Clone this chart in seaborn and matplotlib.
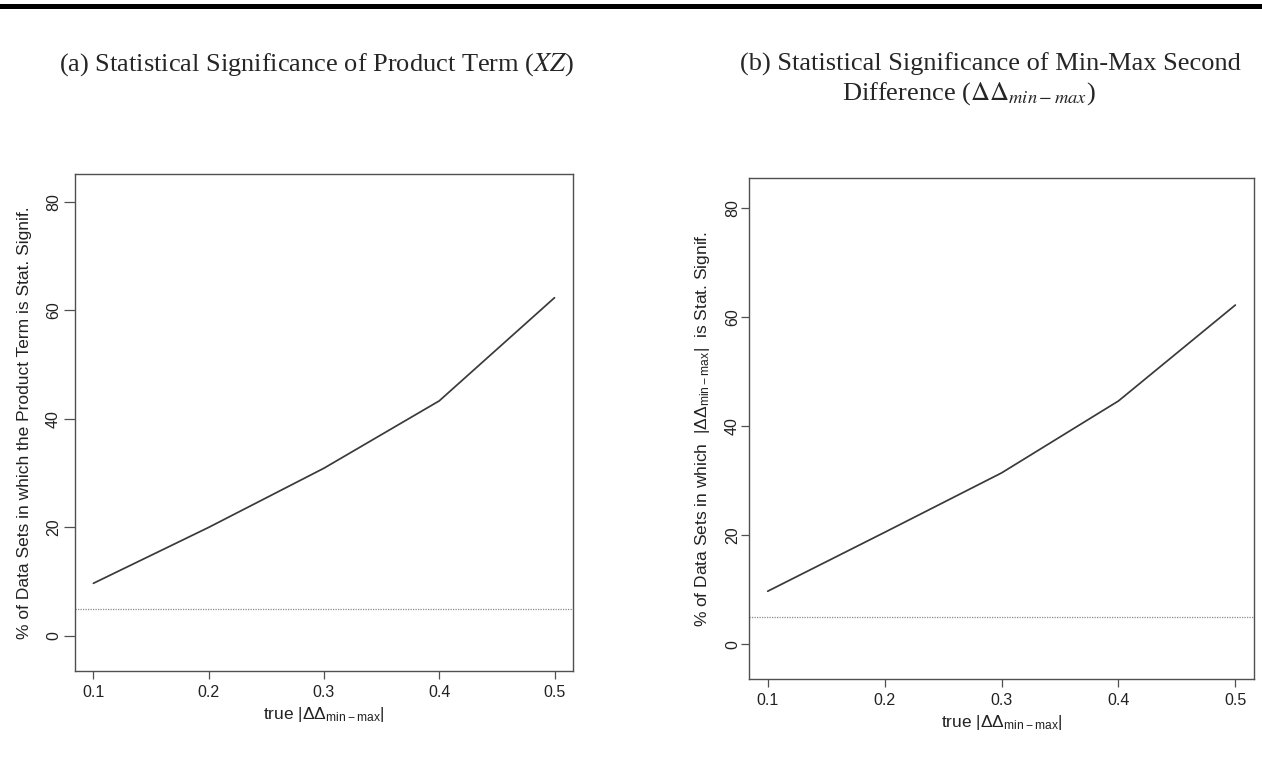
import matplotlib
matplotlib.use('Agg')
import matplotlib.pyplot as plt
from matplotlib.lines import Line2D
import numpy as np
import pandas as pd
import seaborn as sns

# --- data ---
true_dd = [0.1, 0.2, 0.3, 0.4, 0.5]
pct_product_term = [9.7, 20.0, 30.9, 43.3, 62.3]
pct_second_diff = [9.7, 20.5, 31.4, 44.6, 62.2]
alpha_level = 5
x_ticks = [0.1, 0.2, 0.3, 0.4, 0.5]
y_ticks = [0, 20, 40, 60, 80]

title_a = r'(a) Statistical Significance of Product Term ($XZ$)'
title_b1 = '(b) Statistical Significance of Min-Max Second'
title_b2 = r'Difference ($\Delta\Delta_{\mathit{min-max}}$)'
xlabel = r'true $|\Delta\Delta_{\mathrm{min-max}}|$'
ylabel_a = '% of Data Sets in which the Product Term is Stat. Signif.'
ylabel_b = r'% of Data Sets in which  $|\Delta\Delta_{\mathrm{min-max}}|$  is Stat. Signif.'

sns.set_style('ticks')
plt.rcParams['font.family'] = ['Liberation Sans', 'DejaVu Sans']
plt.rcParams['mathtext.fontset'] = 'custom'
plt.rcParams['mathtext.rm'] = 'Liberation Sans'
plt.rcParams['mathtext.it'] = 'Liberation Sans:italic'

fig = plt.figure(figsize=(12.62, 7.70), dpi=100)
ax_a = fig.add_axes([0.0594, 0.1286, 0.3946, 0.6455])
ax_b = fig.add_axes([0.5935, 0.1182, 0.4002, 0.6506])

df = pd.DataFrame({'x': true_dd, 'a': pct_product_term, 'b': pct_second_diff})

def style_panel(ax, col, ylab, ylim, ylen, ypad, labpad):
    sns.lineplot(data=df, x='x', y=col, ax=ax, color='#3a3a3a', linewidth=1.25)
    ax.axhline(alpha_level, color='#8a8a8a', linestyle=(0, (1, 1)), linewidth=0.9)
    ax.set_xlim(0.084, 0.516)
    ax.set_ylim(*ylim)
    ax.set_xticks(x_ticks)
    ax.set_xticklabels([str(t) for t in x_ticks])
    ax.set_yticks(y_ticks)
    ax.set_yticklabels([str(t) for t in y_ticks], rotation=90, va='center')
    for s in ax.spines.values():
        s.set_visible(True)
        s.set_color('#505050')
        s.set_linewidth(1.0)
    ax.tick_params(direction='out', width=0.9, color='#505050',
                   labelsize=11.5, labelcolor='#222222')
    ax.tick_params(axis='x', length=6, pad=4)
    ax.tick_params(axis='y', length=ylen, pad=ypad)
    ax.set_xlabel(xlabel, fontsize=12.5, color='#222222', labelpad=4)
    ax.set_ylabel(ylab, fontsize=12.5, color='#222222', labelpad=labpad)

style_panel(ax_a, 'a', ylabel_a, (-6.45, 85.1), 8, 2, 10)
style_panel(ax_b, 'b', ylabel_b, (-6.4, 85.5), 6, 0.5, 9)

# panel titles (serif, as in the document)
fig.text(0.251, 0.916, title_a, ha='center', va='center', fontsize=19,
         family=['Liberation Serif'], math_fontfamily='stix')
fig.text(0.785, 0.916, title_b1, ha='center', va='center', fontsize=19,
         family=['Liberation Serif'], math_fontfamily='stix')
fig.text(0.768, 0.878, title_b2, ha='center', va='center', fontsize=19,
         family=['Liberation Serif'], math_fontfamily='stix')

# thick rule at the top of the page
fig.add_artist(Line2D([0, 1], [0.992, 0.992], transform=fig.transFigure,
                      color='black', linewidth=3.6))

fig.savefig('out.png', dpi=100)
